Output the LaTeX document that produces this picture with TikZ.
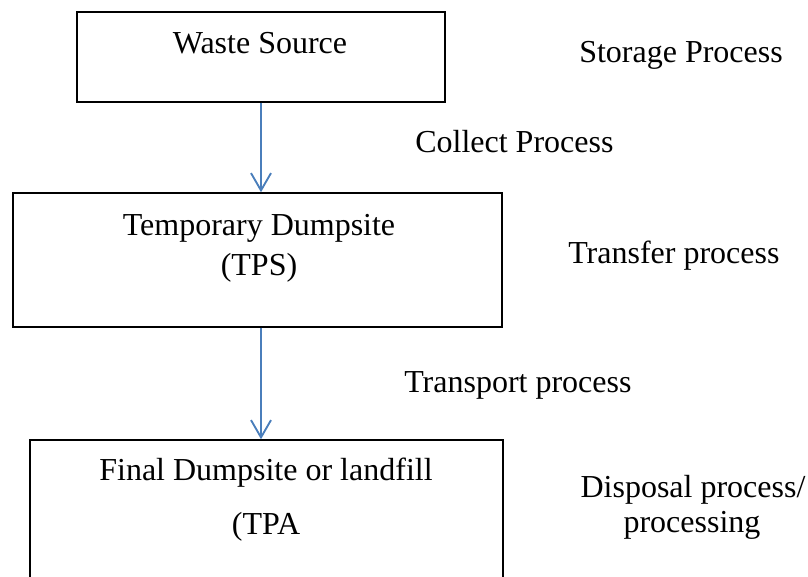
\documentclass[tikz,border=0pt]{standalone}
\usepackage{fontspec}
\setmainfont{Liberation Serif}
\usetikzlibrary{arrows.meta}
\definecolor{flowblue}{RGB}{74,126,187}
\begin{document}
\begin{tikzpicture}[
    x=0.75pt, y=-0.75pt,
    box/.style={rectangle,draw,line width=1.1pt,inner sep=0pt},
    txt/.style={inner sep=0pt,font=\fontsize{24}{29}\selectfont},
    flow/.style={draw=flowblue,line width=1.4pt,-{Straight Barb[length=13pt,width=15pt]}}
]
    \useasboundingbox (0,0) rectangle (808,576);
    \clip (0,0) rectangle (808,576);

    % Boxes
    \node[box,minimum width=276pt,minimum height=67.5pt] (source) at (261,57) {};
    \node[box,minimum width=366.75pt,minimum height=100.5pt] (tps) at (257.5,260) {};
    \node[box,minimum width=354.75pt,minimum height=120pt] (tpa) at (266.5,520) {};

    % Box texts
    \node[txt,anchor=base] (sourceText) at (260,53) {Waste Source};
    \node[txt,anchor=base] (tpsText) at (259,235) {Temporary Dumpsite};
    \node[txt,anchor=base] (tpsAbbr) at (259,275) {(TPS)};
    \node[txt,anchor=base] (tpaText) at (266,480) {Final Dumpsite or landfill};
    \node[txt,anchor=base] (tpaAbbr) at (266,534) {(TPA};

    % Process labels
    \node[txt,anchor=base west] (storage) at (579,62) {Storage Process};
    \node[txt,anchor=base west] (collect) at (415,152) {Collect Process};
    \node[txt,anchor=base west] (transfer) at (568,263) {Transfer process};
    \node[txt,anchor=base west] (transport) at (404,392) {Transport process};
    \node[txt,anchor=base] (disposal) at (693,497) {Disposal process/};
    \node[txt,anchor=base] (processing) at (692,532) {processing};

    % Arrows
    \draw[flow] (source.south) -- (source.south |- tps.north);
    \draw[flow] (source.south |- tps.south) -- (source.south |- tpa.north);
\end{tikzpicture}
\end{document}
